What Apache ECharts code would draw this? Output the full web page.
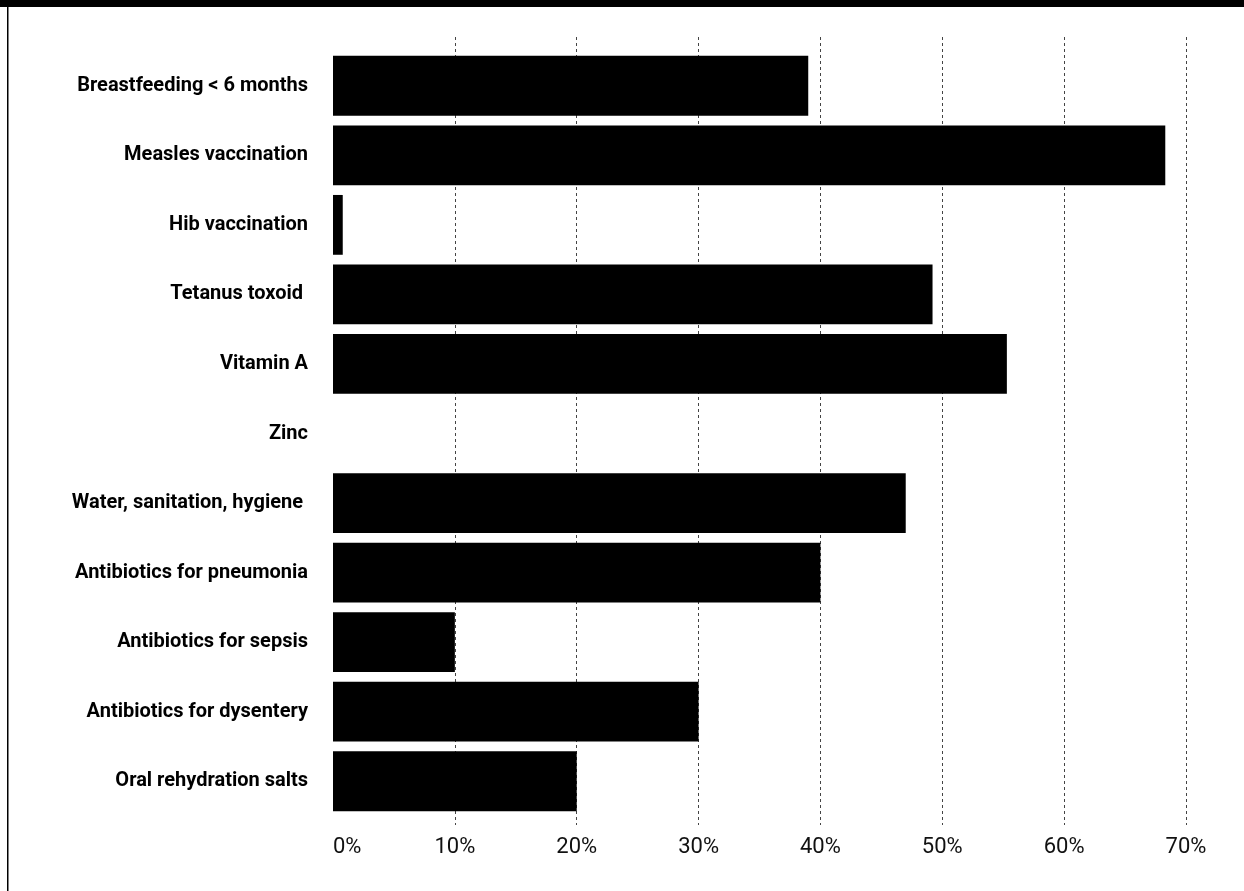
<!DOCTYPE html>
<html>
<head>
<meta charset="utf-8">
<script src="https://cdn.jsdelivr.net/npm/echarts@6/dist/echarts.min.js"></script>
<style>
html,body{margin:0;padding:0;background:#fff;}
#chart{width:1244px;height:891px;}
</style>
</head>
<body>
<div id="chart"></div>
<script>
var categories = [
  "Breastfeeding < 6 months",
  "Measles vaccination",
  "Hib vaccination",
  "Tetanus toxoid ",
  "Vitamin A",
  "Zinc",
  "Water, sanitation, hygiene ",
  "Antibiotics for pneumonia",
  "Antibiotics for sepsis",
  "Antibiotics for dysentery",
  "Oral rehydration salts"
];
var coverage = [39, 68.3, 0.8, 49.2, 55.3, 0, 47, 40, 10, 30, 20];
var tickMin = 0, tickMax = 70, tickStep = 10;

var FONT = 'Roboto, "Liberation Sans", sans-serif';

var chart = echarts.init(document.getElementById('chart'), null, {renderer: 'canvas'});
chart.setOption({
  backgroundColor: '#fff',
  animation: false,
  graphic: [
    {type: 'rect', left: 0, top: 0, shape: {width: 1244, height: 7}, style: {fill: '#000'}},
    {type: 'rect', left: 7, top: 0, shape: {width: 1.5, height: 891}, style: {fill: '#000'}}
  ],
  grid: [
    {left: 333, right: 58, top: 51, height: 765, containLabel: false},
    {left: 333, right: 58, top: 37, height: 788, containLabel: false}
  ],
  xAxis: [
    {gridIndex: 0, type: 'value', min: tickMin, max: tickMax, interval: tickStep, show: false},
    {gridIndex: 1, type: 'value', min: tickMin, max: tickMax, interval: tickStep,
     axisLine: {show: false}, axisTick: {show: false},
     axisLabel: {formatter: '{value}%', margin: 11, fontFamily: FONT, fontSize: 22, color: '#111',
       alignMinLabel: 'left'},
     splitLine: {show: true, showMinLine: false, showMaxLine: true,
       lineStyle: {type: [3, 3], color: '#444', width: 1}}}
  ],
  yAxis: [
    {gridIndex: 0, type: 'category', data: categories, inverse: true,
     axisLine: {show: false}, axisTick: {show: false}, splitLine: {show: false},
     axisLabel: {margin: 25, fontFamily: FONT, fontWeight: 'bold', fontSize: 20, color: '#000'}},
    {gridIndex: 1, type: 'category', data: categories, show: false}
  ],
  series: [
    {type: 'bar', xAxisIndex: 0, yAxisIndex: 0, data: coverage,
     barCategoryGap: '14%', itemStyle: {color: '#000'}, silent: true}
  ]
});
</script>
</body>
</html>
